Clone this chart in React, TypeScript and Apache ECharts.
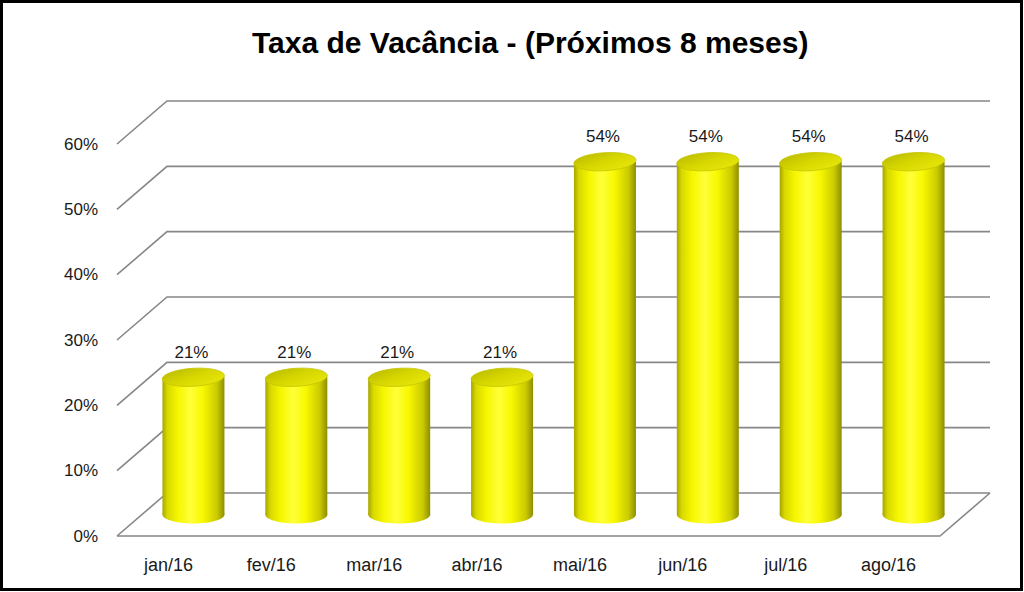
import React, { useEffect, useRef } from "react";
import * as echarts from "echarts";

const categories = ["jan/16", "fev/16", "mar/16", "abr/16", "mai/16", "jun/16", "jul/16", "ago/16"];
const vacancyValues = [21, 21, 21, 21, 54, 54, 54, 54];
const yTicks = [0, 10, 20, 30, 40, 50, 60];
const titleText = "Taxa de Vacância - (Próximos 8 meses)";

const FONT = "'Liberation Sans', Arial, sans-serif";
const DEPTH_X = 50;
const DEPTH_Y = -43;
const GRID_COLOR = "#878787";

export default function App() {
  const ref = useRef<HTMLDivElement>(null);

  useEffect(() => {
    if (!ref.current) return;
    const chart = echarts.init(ref.current, null, { renderer: "svg" });

    const bodyGradient = () =>
      new echarts.graphic.LinearGradient(0, 0, 1, 0, [
        { offset: 0, color: "#a6a600" },
        { offset: 0.08, color: "#d8d800" },
        { offset: 0.25, color: "#f6f600" },
        { offset: 0.45, color: "#ffff3a" },
        { offset: 0.65, color: "#f8f800" },
        { offset: 0.88, color: "#caca00" },
        { offset: 1, color: "#8e8e00" },
      ]);

    const option: any = {
      animation: false,
      backgroundColor: "#ffffff",
      title: {
        text: titleText,
        left: 252,
        top: 27,
        padding: 0,
        textStyle: {
          fontFamily: FONT,
          fontWeight: "bold",
          fontSize: 30,
          color: "#000000",
        },
      },
      grid: { left: 117, right: 84, top: 144, bottom: 56, containLabel: false },
      xAxis: {
        type: "category",
        data: categories,
        axisLine: { show: false },
        axisTick: { show: false },
        splitLine: { show: false },
        axisLabel: {
          margin: 20,
          fontFamily: FONT,
          fontSize: 18,
          color: "#1a1a1a",
        },
      },
      yAxis: {
        type: "value",
        min: 0,
        max: 60,
        interval: 10,
        axisLine: { show: false },
        axisTick: { show: false },
        splitLine: { show: false },
        axisLabel: {
          margin: 19,
          formatter: "{value}%",
          fontFamily: FONT,
          fontSize: 17,
          color: "#1a1a1a",
        },
      },
      graphic: [
        {
          type: "rect",
          shape: { x: 1.5, y: 1.5, width: 1020, height: 588 },
          style: { fill: "none", stroke: "#000000", lineWidth: 3 },
          silent: true,
          z: 100,
        },
      ],
      series: [
        {
          type: "custom",
          name: "grid3d",
          z: 1,
          silent: true,
          data: yTicks.map((t) => [0, t]),
          renderItem: (params: any, api: any) => {
            const cs = params.coordSys;
            const v = api.value(1);
            const p = api.coord([0, v]);
            const y = p[1];
            const xl = cs.x;
            const xr = cs.x + cs.width;
            const children: any[] = [
              {
                type: "polyline",
                shape: {
                  points: [
                    [xl, y],
                    [xl + DEPTH_X, y + DEPTH_Y],
                    [xr + DEPTH_X, y + DEPTH_Y],
                  ],
                },
                style: { stroke: GRID_COLOR, lineWidth: 1.6, fill: "none" },
              },
            ];
            if (v === 0) {
              children.push({
                type: "polyline",
                shape: {
                  points: [
                    [xl, y],
                    [xr, y],
                    [xr + DEPTH_X, y + DEPTH_Y],
                  ],
                },
                style: { stroke: GRID_COLOR, lineWidth: 1.6, fill: "none" },
              });
            }
            return { type: "group", children };
          },
        },
        {
          type: "custom",
          name: "Taxa de Vacância",
          z: 5,
          data: vacancyValues.map((v, i) => [i, v]),
          renderItem: (params: any, api: any) => {
            const idx = api.value(0);
            const val = api.value(1);
            const top = api.coord([idx, val]);
            const base = api.coord([idx, 0]);
            const cx = top[0] + DEPTH_X / 2;
            const topY = top[1] + DEPTH_Y / 2;
            const botY = base[1] + DEPTH_Y / 2;
            const rx = 31;
            const ry = 9;
            return {
              type: "group",
              children: [
                {
                  type: "ellipse",
                  shape: { cx, cy: botY, rx, ry },
                  style: { fill: bodyGradient() },
                },
                {
                  type: "rect",
                  shape: { x: cx - rx, y: topY, width: rx * 2, height: botY - topY },
                  style: { fill: bodyGradient() },
                },
                {
                  type: "ellipse",
                  shape: { cx: 0, cy: 0, rx, ry },
                  x: cx,
                  y: topY,
                  rotation: 0.06,
                  style: {
                    fill: new echarts.graphic.LinearGradient(0, 0, 1, 1, [
                      { offset: 0, color: "#b8b800" },
                      { offset: 0.5, color: "#d8d800" },
                      { offset: 1, color: "#eaea10" },
                    ]),
                    stroke: "#c4c400",
                    lineWidth: 0.8,
                  },
                },
                {
                  type: "text",
                  x: cx - 2,
                  y: topY - 25,
                  style: {
                    text: val + "%",
                    align: "center",
                    verticalAlign: "middle",
                    fontFamily: FONT,
                    fontSize: 17,
                    fill: "#1a1a1a",
                  },
                },
              ],
            };
          },
        },
      ],
    };

    chart.setOption(option);
    return () => chart.dispose();
  }, []);

  return (
    <div
      ref={ref}
      style={{ position: "absolute", left: 0, top: 0, width: 1024, height: 592 }}
    />
  );
}
